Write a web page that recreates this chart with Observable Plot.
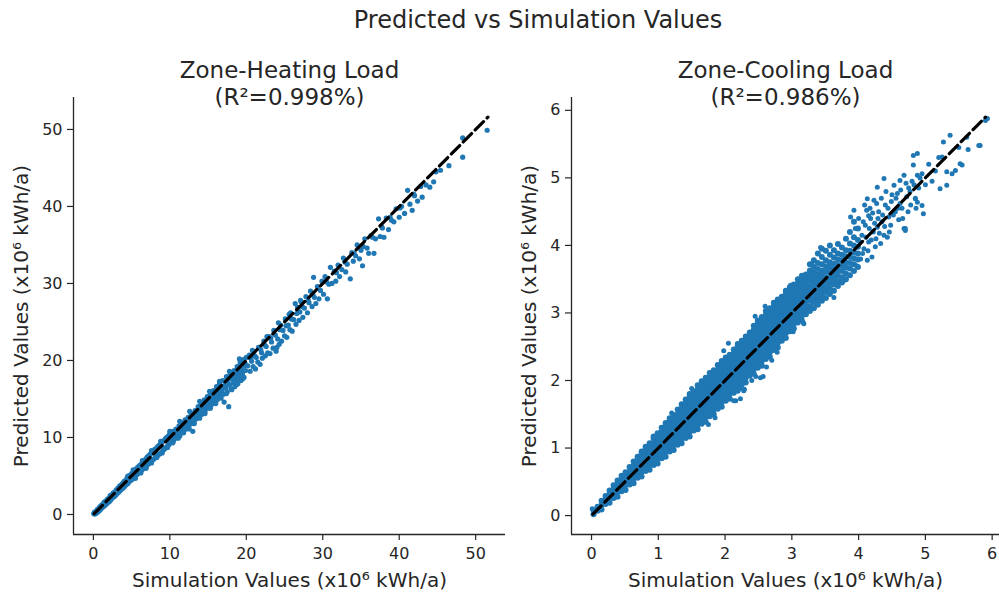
<!DOCTYPE html>
<html>
<head>
<meta charset="utf-8">
<script src="https://cdn.jsdelivr.net/npm/d3@7"></script>
<script src="https://cdn.jsdelivr.net/npm/@observablehq/plot@0.6"></script>
<style>
  body { margin: 0; background: #fff; }
  #fig { position: relative; width: 999px; height: 592px; overflow: hidden; font-family: "DejaVu Sans", sans-serif; color: #262626; }
  #fig svg { position: absolute; top: 0; }
  #title { position: absolute; left: 238px; width: 600px; top: 8px; text-align: center; font-size: 24px; line-height: 24px; z-index: 2; }
</style>
</head>
<body>
<div id="fig"><div id="title"></div></div>
<script>
// ---------- text ----------
const mainTitle = "Predicted vs Simulation Values";
const panelTitles = ["Zone-Heating Load", "Zone-Cooling Load"];
const panelR2 = ["(R²=0.998%)", "(R²=0.986%)"];
const xLabel = "Simulation Values (x10⁶ kWh/a)";
const yLabel = "Predicted Values (x10⁶ kWh/a)";

// ---------- ticks & domains ----------
const heatXTicks = [0, 10, 20, 30, 40, 50];
const heatYTicks = [0, 10, 20, 30, 40, 50];
const coolXTicks = [0, 1, 2, 3, 4, 5, 6];
const coolYTicks = [0, 1, 2, 3, 4, 5, 6];
const heatXDomain = [-2.6, 53.9];
const heatYDomain = [-2.6, 54.15];
const coolXDomain = [-0.30, 6.11];
const coolYDomain = [-0.28, 6.19];

// ---------- diagonal (y = x) reference line ends ----------
const heatDiagonal = [0.1, 51.6];
const coolDiagonal = [0.02, 5.9];

// ---------- Zone-Heating: [simulation, predicted] ----------
const heatPoints = [
[0.05,0.1],[0.15,0.3],[0.22,0.05],[0.3,0.35],[0.41,0.2],[0.5,0.62],[0.58,0.31],[0.66,0.74],[0.77,0.5],[0.85,0.98],
[0.93,0.66],[1.04,1.2],[1.12,0.85],[1.2,1.31],[1.33,1.02],[1.41,1.6],[1.5,1.18],[1.6,1.72],[1.71,1.36],[1.8,1.95],
[1.88,1.52],[2.0,2.1],[2.1,1.7],[2.19,2.45],[2.3,1.92],[2.41,2.56],[2.5,2.18],[2.6,2.82],[2.71,2.3],[2.8,2.95],
[2.92,2.5],[3.0,3.2],[3.1,2.72],[3.22,3.41],[3.3,2.9],[3.43,3.7],[3.52,3.1],[3.6,3.82],[3.71,3.32],[3.82,4.05],
[3.9,3.45],[4.02,4.3],[4.11,3.68],[4.22,4.4],[4.33,3.9],[4.4,4.72],[4.52,4.02],[4.6,4.88],[4.73,4.3],[4.81,5.1],
[4.92,4.45],[5.03,5.35],[5.12,4.6],[5.23,5.5],[5.31,4.85],[5.42,5.75],[5.5,5.0],[5.63,5.92],[5.72,5.18],[5.8,6.15],
[5.93,5.4],[6.02,6.35],[6.1,5.55],[6.22,6.5],[6.31,5.72],[6.43,6.8],[6.52,5.95],[6.6,6.98],[6.72,6.1],[6.83,7.15],
[6.91,6.3],[7.0,7.42],[7.12,6.5],[7.2,7.6],[7.33,6.7],[7.41,7.8],[7.5,6.85],[7.62,8.0],[7.7,7.05],[7.82,8.2],
[7.91,7.2],[8.03,8.45],[8.1,7.38],[8.22,8.6],[8.31,7.55],[8.42,8.85],[8.5,7.75],[8.63,9.0],[8.72,7.9],[8.8,9.2],
[8.93,8.1],[9.02,9.45],[9.1,8.3],[9.22,9.6],[9.3,8.5],[9.43,9.85],[9.52,8.68],[9.6,10.0],[9.72,8.9],[9.83,10.2],[9.9,9.1],
[0.7,0.65],[1.55,1.5],[2.35,2.3],[3.15,3.1],[4.05,3.95],[4.85,4.8],[5.7,5.6],[6.5,6.4],[7.3,7.2],[8.15,8.0],[8.95,8.85],[9.75,9.6],
[0.9,1.0],[1.9,1.8],[2.9,2.9],[3.9,3.8],[4.5,5.0],[5.5,4.7],[5.2,5.8],[6.2,5.4],[6.4,7.0],[6.9,6.0],[7.6,6.7],[7.6,8.3],
[8.3,7.4],[8.8,9.5],[9.0,8.0],[9.7,8.7],
[10.0,10.5],[10.1,9.4],[10.2,10.1],[10.3,9.7],[10.4,10.8],[10.5,9.6],[10.6,10.4],[10.7,9.9],[10.8,11.1],[10.9,10.0],
[11.0,10.7],[11.1,10.3],[11.2,11.5],[11.3,10.2],[11.4,11.0],[11.5,10.6],[11.6,11.9],[11.7,10.9],[11.8,11.5],[11.9,11.0],
[12.0,12.3],[12.1,11.1],[12.2,11.8],[12.3,11.5],[12.4,12.6],[12.5,11.3],[12.6,12.2],[12.7,11.9],[12.8,13.1],[12.9,11.8],
[13.0,10.8],[13.05,12.7],[13.2,12.2],[13.3,13.5],[13.4,12.4],[13.5,13.1],[13.6,12.7],[13.7,14.0],[13.8,12.6],[13.9,13.5],
[14.0,13.1],[14.1,14.4],[14.2,13.0],[14.3,13.9],[14.4,13.6],[14.5,14.9],[14.6,13.4],[14.7,14.3],[14.8,14.0],[14.9,15.3],
[15.0,13.8],[15.1,14.8],[15.2,14.5],[15.3,15.7],[15.4,14.2],[15.5,15.2],[15.6,14.9],[15.7,16.1],[15.8,14.5],[15.9,15.6],
[16.0,15.3],[16.1,16.6],[16.2,14.9],[16.3,16.0],[16.4,15.7],[16.5,17.0],[16.6,15.2],[16.7,16.4],[16.8,16.0],[16.9,17.4],
[17.0,15.6],[17.1,14.6],[17.2,16.8],[17.3,16.4],[17.4,17.9],[17.5,15.9],[17.7,14.0],[17.6,17.2],[17.8,16.8],[17.9,18.3],
[18.0,16.3],[18.2,17.6],[18.3,17.1],[18.4,18.7],[18.5,16.6],[18.6,18.0],[18.7,17.5],[18.8,19.2],[18.9,17.0],[19.0,18.4],
[19.1,17.9],[19.2,19.7],[19.3,17.4],[19.4,18.8],[19.5,18.3],[19.6,20.1],[19.7,17.8],[19.8,19.3],[19.9,18.7],[20.0,20.4],
[10.25,10.3],[10.85,10.6],[11.45,11.3],[12.05,11.7],[12.65,12.5],[13.25,12.9],[13.85,13.7],[14.45,14.1],[15.05,14.9],
[15.65,15.3],[16.25,16.1],[16.85,16.5],[17.45,17.2],[18.05,17.7],[18.65,18.4],[19.25,18.9],[19.85,19.6],
[10.4,9.3],[11.1,9.9],[11.8,10.6],[12.5,11.1],[13.2,11.8],[13.9,12.5],[14.6,13.1],[15.3,13.8],[16.0,14.4],[16.7,15.1],
[17.4,15.7],[18.1,16.2],[18.8,16.9],[19.5,17.6],[10.0,10.8],[11.3,12.1],[12.6,13.4],[13.9,14.7],[15.2,16.0],[16.5,17.3],
[17.8,18.6],[19.1,20.2],
[20.2,19.3],[20.4,20.7],[20.5,18.6],[20.7,19.9],[20.9,19.2],[21.0,21.2],[21.2,18.9],[21.3,20.4],[21.5,19.8],[21.6,21.7],
[21.8,19.5],[22.0,21.0],[22.1,20.3],[22.3,22.5],[22.5,20.6],[22.6,21.8],[22.8,21.0],[23.0,23.1],[23.1,20.9],[23.3,22.4],
[23.5,21.6],[23.6,23.9],[23.9,21.2],[24.0,21.7],[24.1,22.8],[24.3,22.1],[24.5,24.6],[24.6,22.5],[24.8,23.9],[25.0,23.2],
[25.1,25.4],[25.3,23.0],[25.5,24.6],[25.7,24.0],[25.8,26.2],[26.0,23.8],[26.2,25.3],[26.4,27.4],[26.5,24.7],[26.7,26.9],
[26.9,25.2],[27.0,26.3],[27.2,27.6],[27.4,25.6],[27.6,26.8],[27.8,28.3],[28.0,26.2],[28.2,27.5],[28.4,29.0],[28.6,27.0],
[28.8,30.8],[28.9,28.2],[29.1,27.4],[29.3,29.6],[29.5,28.0],[29.7,29.1],[29.9,30.3],
[20.6,20.3],[21.1,20.6],[21.9,21.4],[22.4,22.0],[23.2,22.9],[23.8,23.3],[24.4,24.0],[25.2,24.5],[25.9,25.4],[26.6,26.1],
[27.3,27.0],[28.1,27.8],[28.7,28.6],[20.8,21.3],[22.7,23.1],[24.2,24.9],[25.6,26.0],[27.1,27.8],
[30.1,28.6],[30.3,30.9],[30.6,28.0],[30.8,29.9],[31.0,32.1],[31.2,30.0],[31.5,31.6],[31.7,30.3],[32.0,32.4],[32.2,30.9],
[32.5,31.8],[32.7,33.3],[33.0,31.5],[33.2,32.5],[33.6,30.6],[33.8,34.0],[34.0,32.9],[34.3,33.6],[34.5,35.0],[34.8,33.2],
[35.0,34.3],[35.2,32.3],[35.5,35.8],[35.8,34.6],[36.0,33.9],[36.3,36.2],[36.7,33.9],[36.9,35.8],[37.3,38.4],[37.5,36.1],
[37.8,37.2],[38.0,36.0],[38.3,38.5],[38.6,37.0],[39.0,38.2],[39.3,38.0],[39.6,39.7],[40.0,38.6],[40.3,40.0],[40.7,39.1],
[41.1,42.1],[41.4,40.3],[41.7,39.5],[42.0,41.4],[42.4,40.7],[42.8,42.6],[43.0,41.2],[43.5,42.8],[44.0,42.5],[44.5,43.2],
[44.8,44.5],[45.4,44.7],[46.5,45.3],[48.3,48.9],[48.3,46.4],[51.5,49.9],
[30.5,30.2],[31.8,31.4],[32.9,32.8],[34.1,33.9],[35.3,34.8],[36.5,36.0],[37.7,37.4],[38.8,38.6],[40.1,39.8],[41.9,41.6]
];

// ---------- Zone-Cooling, dense core: [simulation, [predicted...]] ----------
const coolColumns = [
[0.03,[0.02,0.08]],
[0.09,[0.07,0.13]],
[0.15,[0.09,0.16,0.22]],
[0.21,[0.17,0.23,0.29]],
[0.27,[0.19,0.25,0.32,0.37]],
[0.33,[0.26,0.32,0.39,0.45]],
[0.39,[0.28,0.35,0.41,0.48,0.52]],
[0.45,[0.36,0.42,0.49,0.55,0.59]],
[0.51,[0.38,0.45,0.51,0.58,0.64]],
[0.57,[0.46,0.52,0.59,0.65,0.72]],
[0.63,[0.48,0.55,0.61,0.68,0.74,0.80]],
[0.69,[0.56,0.62,0.69,0.75,0.82,0.87]],
[0.75,[0.58,0.65,0.71,0.78,0.84,0.91,0.95]],
[0.81,[0.66,0.72,0.79,0.85,0.92,0.98,1.02]],
[0.87,[0.68,0.75,0.81,0.88,0.94,1.01,1.07]],
[0.93,[0.75,0.82,0.88,0.95,1.01,1.08,1.14,1.17]],
[0.99,[0.77,0.84,0.90,0.97,1.03,1.10,1.16,1.22]],
[1.05,[0.85,0.91,0.98,1.04,1.11,1.17,1.24,1.30]],
[1.11,[0.87,0.94,1.00,1.07,1.13,1.20,1.26,1.33,1.37]],
[1.17,[0.95,1.01,1.08,1.14,1.21,1.27,1.34,1.40,1.44]],
[1.23,[0.97,1.04,1.10,1.17,1.23,1.30,1.36,1.43,1.49]],
[1.29,[1.05,1.11,1.18,1.24,1.31,1.37,1.44,1.50,1.57]],
[1.35,[1.07,1.14,1.20,1.27,1.33,1.40,1.46,1.53,1.59,1.65]],
[1.41,[1.15,1.21,1.28,1.34,1.41,1.47,1.54,1.60,1.67,1.72]],
[1.47,[1.17,1.24,1.30,1.37,1.43,1.50,1.56,1.63,1.69,1.76,1.80]],
[1.53,[1.26,1.32,1.39,1.45,1.52,1.58,1.65,1.71,1.78,1.84]],
[1.59,[1.28,1.35,1.41,1.48,1.54,1.61,1.67,1.74,1.80,1.87,1.93]],
[1.65,[1.36,1.42,1.49,1.55,1.62,1.68,1.75,1.81,1.88,1.94,1.99]],
[1.71,[1.39,1.46,1.52,1.59,1.65,1.72,1.78,1.85,1.91,1.98,2.04]],
[1.77,[1.47,1.53,1.60,1.66,1.73,1.79,1.86,1.92,1.99,2.05,2.11]],
[1.83,[1.50,1.57,1.63,1.70,1.76,1.83,1.89,1.96,2.02,2.09,2.15]],
[1.89,[1.58,1.64,1.71,1.77,1.84,1.90,1.97,2.03,2.10,2.16,2.23]],
[1.95,[1.61,1.68,1.74,1.81,1.87,1.94,2.00,2.07,2.13,2.20,2.26,2.29]],
[2.01,[1.70,1.76,1.83,1.89,1.96,2.02,2.09,2.15,2.22,2.28,2.34]],
[2.07,[1.73,1.80,1.86,1.93,1.99,2.06,2.12,2.19,2.25,2.32,2.38]],
[2.13,[1.82,1.88,1.95,2.01,2.08,2.14,2.21,2.27,2.34,2.40,2.46]],
[2.19,[1.85,1.92,1.98,2.05,2.11,2.18,2.24,2.31,2.37,2.44,2.50,2.54]],
[2.25,[1.94,2.00,2.07,2.13,2.20,2.26,2.33,2.39,2.46,2.52,2.59]],
[2.31,[1.97,2.04,2.10,2.17,2.23,2.30,2.36,2.43,2.49,2.56,2.62,2.65]],
[2.37,[2.07,2.13,2.20,2.26,2.33,2.39,2.46,2.52,2.59,2.65,2.71]],
[2.43,[2.10,2.17,2.23,2.30,2.36,2.43,2.49,2.56,2.62,2.69,2.75,2.81]],
[2.49,[2.19,2.25,2.32,2.38,2.45,2.51,2.58,2.64,2.71,2.77,2.84,2.89]],
[2.55,[2.22,2.29,2.35,2.42,2.48,2.55,2.61,2.68,2.74,2.81,2.87,2.94]],
[2.61,[2.32,2.38,2.45,2.51,2.58,2.64,2.71,2.77,2.84,2.90,2.97,3.03]],
[2.67,[2.35,2.42,2.48,2.55,2.61,2.68,2.74,2.81,2.87,2.94,3.00,3.07]],
[2.73,[2.45,2.51,2.58,2.64,2.71,2.77,2.84,2.90,2.97,3.03,3.10,3.15]],
[2.79,[2.49,2.56,2.62,2.69,2.75,2.82,2.88,2.95,3.01,3.08,3.14,3.20]],
[2.85,[2.59,2.65,2.72,2.78,2.85,2.91,2.98,3.04,3.11,3.17,3.24]],
[2.91,[2.63,2.70,2.76,2.83,2.89,2.96,3.02,3.09,3.15,3.22,3.28,3.33]],
[2.97,[2.73,2.79,2.86,2.92,2.99,3.05,3.12,3.18,3.25,3.31,3.38]],
[3.03,[2.77,2.84,2.90,2.97,3.03,3.10,3.16,3.23,3.29,3.36,3.42]],
[3.09,[2.86,2.92,2.99,3.05,3.12,3.18,3.25,3.31,3.38,3.44,3.50]],
[3.15,[2.89,2.96,3.02,3.09,3.15,3.22,3.28,3.35,3.41,3.48,3.55]],
[3.21,[2.98,3.04,3.11,3.17,3.24,3.30,3.37,3.43,3.50,3.57]],
[3.27,[3.03,3.10,3.18,3.25,3.33,3.40,3.48,3.55,3.63,3.72]],
[3.33,[3.07,3.15,3.22,3.30,3.37,3.45,3.52,3.60,3.68,3.78]],
[3.39,[3.12,3.20,3.27,3.35,3.42,3.50,3.57,3.65,3.74,3.88]],
[3.45,[3.18,3.26,3.33,3.41,3.48,3.56,3.63,3.72,3.83,3.95]],
[3.51,[3.22,3.31,3.38,3.46,3.53,3.61,3.69,3.78,3.92]],
[3.57,[3.28,3.36,3.44,3.51,3.59,3.67,3.75,3.86,4.00]],
[3.63,[3.33,3.42,3.50,3.57,3.65,3.73,3.82,3.93]],
[3.69,[3.40,3.47,3.55,3.63,3.71,3.79,3.88,4.02]],
[3.75,[3.45,3.53,3.62,3.70,3.78,3.86,3.97]],
[3.81,[3.50,3.58,3.67,3.75,3.84,3.93,4.10]],
[3.87,[3.56,3.66,3.74,3.83,3.92,4.03,4.20]],
[3.93,[3.62,3.72,3.81,3.90,4.00,4.12,4.35]],
[3.99,[3.68,3.79,3.88,3.98,4.08,4.25]]
];

// ---------- Zone-Cooling, scattered points: [simulation, predicted] ----------
const coolPoints = [
[0.01,0.10],[2.05,2.55],[1.98,2.44],[2.28,1.85],[2.16,1.70],[2.23,1.73],[2.53,2.04],[2.57,2.06],[2.29,1.87],[2.13,1.70],
[2.23,1.88],[2.78,2.42],[3.02,2.72],[3.17,2.86],[2.46,2.06],[2.62,2.20],[2.70,2.30],[1.75,1.35],[1.85,1.45],[2.40,2.00],
[2.45,2.95],[2.60,3.10],[1.50,1.88],[1.20,1.52],
[4.03,3.80],[4.05,4.15],[4.08,3.95],[4.10,4.30],[4.12,4.52],[4.13,3.78],[4.13,4.69],[4.15,4.05],[4.18,4.40],[4.20,3.83],
[4.22,4.20],[4.23,4.67],[4.25,3.98],[4.28,4.27],[4.30,4.50],[4.33,4.03],[4.35,4.35],[4.38,4.99],[4.38,4.15],[4.40,4.60],
[4.43,4.12],[4.45,4.42],[4.48,4.30],[4.50,4.75],[4.53,4.89],[4.55,4.50],[4.58,4.77],[4.60,4.38],[4.62,4.62],[4.65,4.55],
[4.68,4.25],[4.68,5.04],[4.70,4.22],[4.72,4.72],[4.75,4.85],[4.78,4.60],[4.80,4.95],[4.82,5.33],[4.82,5.19],[4.85,4.70],
[4.88,5.36],[4.88,4.64],[4.90,4.85],[4.95,4.59],[4.95,5.06],[5.00,4.90],[5.22,4.84],[5.25,5.31],[5.27,5.53],[5.32,5.09],
[5.37,5.63],[5.40,5.06],[5.45,5.11],[5.50,5.45],[5.52,5.21],[5.64,5.42],[5.62,5.60],[5.80,5.48],[5.90,5.85],[5.93,5.88],
[3.88,4.42],[3.93,4.52],[3.43,3.97],[3.30,3.73],[3.13,3.43],[2.98,3.41],[3.18,2.84],[3.63,3.23],[3.78,3.48],
[4.88,5.04],[4.97,4.47],[4.85,4.69],[4.70,4.25],[5.32,4.89],[5.55,5.19],[5.82,5.48],[4.62,4.96],[4.28,4.86],[4.15,4.44],
[3.95,4.25],[3.97,3.70],[4.00,4.40],[4.02,4.05],[4.06,3.88],[4.07,4.35],[4.09,4.60],[4.11,4.12],[4.14,3.92],[4.16,4.25],
[4.17,4.55],[4.19,4.08],[4.21,4.48],[4.24,4.33],[4.26,4.10],[4.27,4.62],[4.29,4.40],[4.31,4.18],[4.34,4.70],[4.36,4.45],
[4.39,4.28],[4.41,4.80],[4.44,4.55],[4.46,4.20],[4.49,4.65],[4.52,4.45],[4.56,4.70],[4.59,4.55],[4.63,4.82],[4.66,4.40],
[4.71,4.92],[4.74,4.50],[4.77,4.80],[4.83,4.90],[4.86,4.55],[4.92,5.00],[5.05,5.20],[5.10,4.95],[5.15,5.10],[5.20,5.30]
];

// ---------- build tables ----------
const heatData = heatPoints.map(([sim, pred]) => ({sim, pred}));
const coolDenseData = coolColumns.flatMap(([sim, preds]) => preds.map(pred => ({sim, pred})));
const coolSparseData = coolPoints.map(([sim, pred]) => ({sim, pred}));

const ink = "#262626";
const blue = "#1f77b4";

function panel({dots, diagonal, xDomain, yDomain, xTicks, yTicks, title, r2, width, marginLeft, yLabelDx}) {
  return Plot.plot({
    width, height: 592,
    marginLeft, marginRight: 0, marginTop: 97, marginBottom: 58,
    style: {fontFamily: "DejaVu Sans, sans-serif", color: ink, background: "transparent", overflow: "visible"},
    x: {domain: xDomain},
    y: {domain: yDomain},
    marks: [
      ...dots.map(([data, r]) => Plot.dot(data, {x: "sim", y: "pred", r, fill: blue, stroke: "none"})),
      Plot.line(diagonal.map(v => ({v})), {x: "v", y: "v", stroke: "black", strokeWidth: 3.2, strokeDasharray: "11.8,5.1"}),
      Plot.ruleX([xDomain[0]], {stroke: ink, strokeWidth: 1.3}),
      Plot.ruleY([yDomain[0]], {stroke: ink, strokeWidth: 1.3}),
      Plot.axisX({ticks: xTicks, tickFormat: d => String(d), tickSize: 6, tickPadding: 7, fontSize: 16, label: null, color: ink, strokeWidth: 1.2}),
      Plot.axisY({ticks: yTicks, tickFormat: d => String(d), tickSize: 6, tickPadding: 5, fontSize: 16, label: null, color: ink, strokeWidth: 1.2}),
      Plot.text([title], {frameAnchor: "top", dy: -20, fontSize: 23, lineAnchor: "bottom", textAnchor: "middle", fill: ink}),
      Plot.text([r2], {frameAnchor: "top", dy: 7, fontSize: 23, lineAnchor: "bottom", textAnchor: "middle", fill: ink}),
      Plot.text([xLabel], {frameAnchor: "bottom", dy: 52, fontSize: 20, lineAnchor: "bottom", textAnchor: "middle", fill: ink}),
      Plot.text([yLabel], {frameAnchor: "left", dx: yLabelDx, rotate: -90, fontSize: 20, lineAnchor: "bottom", textAnchor: "middle", fill: ink})
    ]
  });
}

const fig = document.getElementById("fig");
document.getElementById("title").textContent = mainTitle;

const left = panel({
  dots: [[heatData, 2.6]], diagonal: heatDiagonal, xDomain: heatXDomain, yDomain: heatYDomain,
  xTicks: heatXTicks, yTicks: heatYTicks, title: panelTitles[0], r2: panelR2[0],
  width: 505, marginLeft: 73, yLabelDx: -46
});
left.style.left = "0px";
fig.appendChild(left);

const right = panel({
  dots: [[coolDenseData, 3.0], [coolSparseData, 2.5]], diagonal: coolDiagonal, xDomain: coolXDomain, yDomain: coolYDomain,
  xTicks: coolXTicks, yTicks: coolYTicks, title: panelTitles[1], r2: panelR2[1],
  width: 494, marginLeft: 66, yLabelDx: -36
});
right.style.left = "505px";
fig.appendChild(right);
</script>
</body>
</html>
